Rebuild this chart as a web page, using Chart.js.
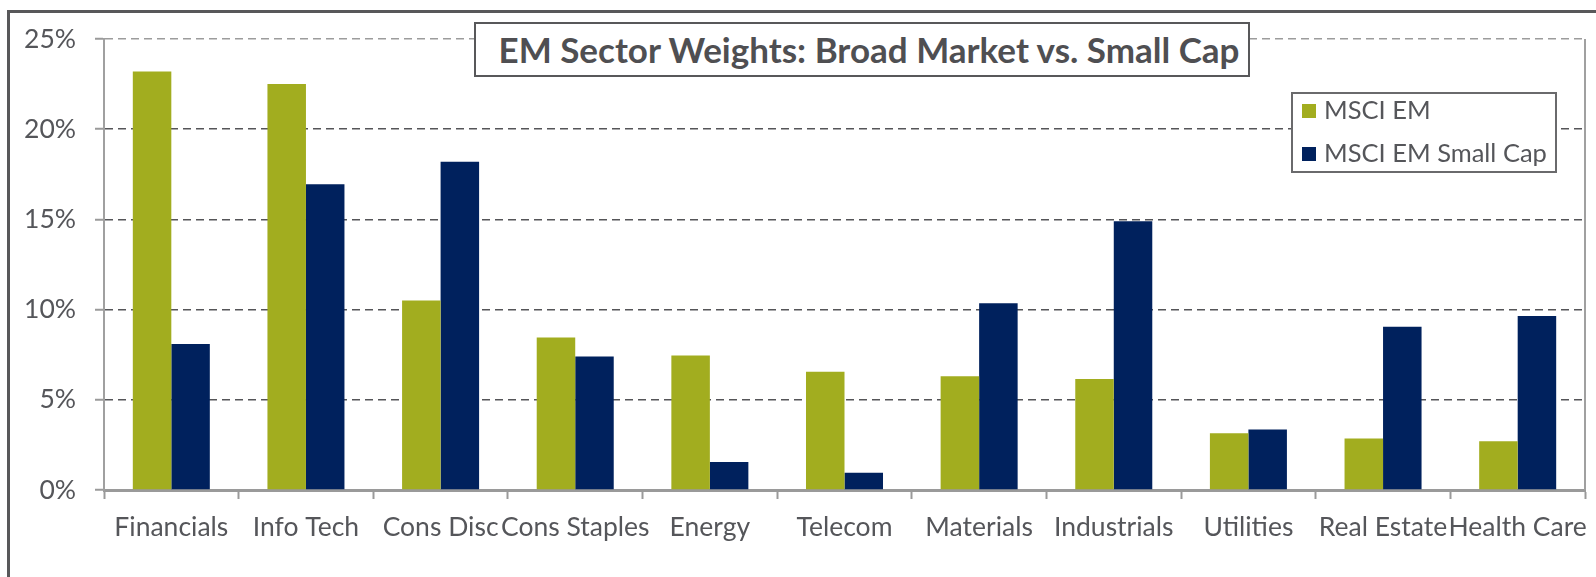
<!DOCTYPE html>
<html>
<head>
<meta charset="utf-8">
<script src="https://cdn.jsdelivr.net/npm/chart.js@4"></script>
<style>
    body { margin: 0; background: #fff; }
    #wrap { position: relative; width: 1596px; height: 577px; overflow: hidden; font-family: Lato, sans-serif; }
    #frame { position: absolute; left: 7px; top: 10px; width: 1700px; height: 700px; border: 3px solid #58585a; }
    #chartBox { position: absolute; left: 0; top: 0; width: 1596px; height: 577px; }
    #title { position: absolute; left: 474px; top: 22px; width: 772px; height: 51px; border: 2px solid #58585a; background: #fff;
        color: #4f4f52; font-weight: bold; font-size: 35px; line-height: 51px; text-align: center; white-space: nowrap;
        box-sizing: content-box; padding-left: 0; text-indent: 14px; }
    #legend { position: absolute; left: 1291px; top: 92px; width: 262px; height: 77px; border: 2px solid #6a6a6c; background: #fff;
        color: #55565a; font-size: 25.5px; }
    .item { position: absolute; left: 9px; height: 30px; line-height: 30px; white-space: nowrap; }
    .item span { display: inline-block; width: 14px; height: 14px; margin-right: 8px; vertical-align: 1px; }
</style>
</head>
<body>
<div id="wrap">
    <div id="chartBox"><canvas id="sectorChart"></canvas></div>
    <div id="frame"></div>
    <div id="title">EM Sector Weights: Broad Market vs. Small Cap</div>
    <div id="legend"></div>
</div>
<script>
const sectors = ['Financials', 'Info Tech', 'Cons Disc', 'Cons Staples', 'Energy', 'Telecom',
    'Materials', 'Industrials', 'Utilities', 'Real Estate', 'Health Care'];
const msciEm = [23.2, 22.5, 10.5, 8.45, 7.45, 6.55, 6.3, 6.15, 3.15, 2.85, 2.7];
const msciEmSmall = [8.1, 16.95, 18.2, 7.4, 1.55, 0.95, 10.35, 14.9, 3.35, 9.05, 9.65];
const seriesNames = ['MSCI EM', 'MSCI EM Small Cap'];
const seriesColors = ['#a2ad1f', '#00215d'];
const yTicks = [0, 5, 10, 15, 20, 25];

const legendBox = document.getElementById('legend');
seriesNames.forEach((name, i) => {
    const row = document.createElement('div');
    row.className = 'item';
    row.style.top = (i === 0 ? 0 : 43) + 'px';
    row.innerHTML = `<span style="background:${seriesColors[i]}"></span>${name}`;
    legendBox.appendChild(row);
});

// right-hand border of the plot area
const plotRightEdge = {
    id: 'plotRightEdge',
    afterDatasetsDraw(chart) {
        const { ctx, chartArea } = chart;
        ctx.save();
        ctx.strokeStyle = '#a0a0a0';
        ctx.lineWidth = 2;
        ctx.beginPath();
        ctx.moveTo(chartArea.right, chartArea.top);
        ctx.lineTo(chartArea.right, chartArea.bottom);
        ctx.stroke();
        ctx.restore();
    }
};

const ctx = document.getElementById('sectorChart').getContext('2d');
new Chart(ctx, {
    type: 'bar',
    data: {
        labels: sectors,
        datasets: [
            { label: seriesNames[0], data: msciEm, backgroundColor: seriesColors[0] },
            { label: seriesNames[1], data: msciEmSmall, backgroundColor: seriesColors[1] }
        ]
    },
    options: {
        responsive: true,
        maintainAspectRatio: false,
        animation: false,
        categoryPercentage: 0.572,
        barPercentage: 1,
        layout: { padding: { left: 0, right: 11, top: 39, bottom: 0 } },
        plugins: {
            legend: { display: false },
            title: { display: false },
            tooltip: { enabled: false }
        },
        scales: {
            x: {
                grid: {
                    display: true,
                    drawOnChartArea: false,
                    offset: true,
                    tickLength: 9,
                    tickColor: '#9a9a9a',
                    tickWidth: 2
                },
                border: { display: true, color: '#9a9a9a', width: 3 },
                ticks: {
                    color: '#55565a',
                    font: { family: 'Lato', size: 26.5 },
                    padding: 13,
                    maxRotation: 0,
                    autoSkip: false
                },
                afterFit(scale) {
                    scale.height = 87;
                    scale.paddingLeft = 0;
                    scale.paddingRight = 0;
                }
            },
            y: {
                min: 0,
                max: 25,
                afterBuildTicks(scale) { scale.ticks = yTicks.map(v => ({ value: v })); },
                grid: {
                    color: c => c.tick.value === 0 ? 'rgba(0,0,0,0)' : (c.tick.value === 25 ? '#9c9c9c' : '#555558'),
                    lineWidth: 1.5,
                    tickLength: 9,
                    tickColor: '#9a9a9a',
                    tickWidth: 2,
                    tickBorderDash: []
                },
                border: { display: true, color: '#a0a0a0', width: 2, dash: [8, 5] },
                ticks: {
                    color: '#55565a',
                    font: { family: 'Lato', size: 26.5 },
                    padding: 19,
                    callback: v => v + '%'
                },
                afterFit(scale) { scale.width = 104; }
            }
        }
    },
    plugins: [plotRightEdge]
});
</script>
</body>
</html>
